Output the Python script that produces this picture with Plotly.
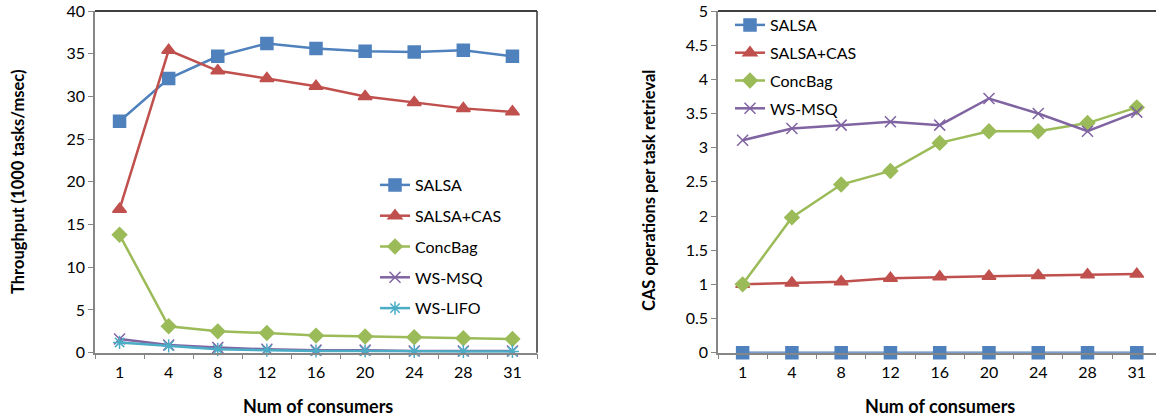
import plotly.graph_objects as go

consumers = ["1", "4", "8", "12", "16", "20", "24", "28", "31"]

# Left chart: throughput (1000 tasks/msec)
thr_salsa = [27.1, 32.1, 34.7, 36.2, 35.6, 35.3, 35.2, 35.4, 34.7]
thr_salsa_cas = [16.8, 35.4, 33.0, 32.1, 31.2, 30.0, 29.3, 28.6, 28.2]
thr_concbag = [13.8, 3.1, 2.5, 2.3, 2.0, 1.9, 1.8, 1.7, 1.6]
thr_wsmsq = [1.6, 0.9, 0.6, 0.4, 0.3, 0.3, 0.2, 0.2, 0.2]
thr_wslifo = [1.2, 0.8, 0.4, 0.3, 0.2, 0.2, 0.15, 0.15, 0.15]

# Right chart: CAS operations per task retrieval
cas_salsa = [0, 0, 0, 0, 0, 0, 0, 0, 0]
cas_salsa_cas = [1.0, 1.02, 1.04, 1.09, 1.11, 1.12, 1.13, 1.14, 1.15]
cas_concbag = [1.0, 1.98, 2.46, 2.66, 3.07, 3.24, 3.24, 3.36, 3.59]
cas_wsmsq = [3.11, 3.28, 3.33, 3.38, 3.33, 3.72, 3.50, 3.24, 3.52]

names = ["SALSA", "SALSA+CAS", "ConcBag", "WS-MSQ", "WS-LIFO"]
colors = ["#4F81BD", "#C0504D", "#9BBB59", "#8064A2", "#4BACC6"]
symbols = ["square", "triangle-up", "diamond", "x-thin-open", "asterisk-open"]
sizes = [12, 12, 11, 11, 11]

FONT = "Lato, 'Open Sans', sans-serif"

fig = go.Figure()

left_series = [thr_salsa, thr_salsa_cas, thr_concbag, thr_wsmsq, thr_wslifo]
for i, ys in enumerate(left_series):
    fig.add_trace(go.Scatter(
        x=consumers, y=ys, name=names[i], mode="lines+markers",
        line=dict(color=colors[i], width=2.5),
        marker=dict(symbol=symbols[i], size=sizes[i], color=colors[i],
                    line=dict(color=colors[i], width=1.5)),
        xaxis="x", yaxis="y", legend="legend", legendgroup="L%d" % i,
        cliponaxis=False,
    ))

right_series = [cas_salsa, cas_salsa_cas, cas_concbag, cas_wsmsq]
for i, ys in enumerate(right_series):
    fig.add_trace(go.Scatter(
        x=consumers, y=ys, name=names[i], mode="lines+markers",
        line=dict(color=colors[i], width=2.5),
        marker=dict(symbol=symbols[i], size=sizes[i], color=colors[i],
                    line=dict(color=colors[i], width=1.5)),
        xaxis="x2", yaxis="y2", legend="legend2", legendgroup="R%d" % i,
        cliponaxis=False,
    ))

axis_common = dict(
    showgrid=False, zeroline=False, showline=True, linecolor="#868686", linewidth=1.5,
    ticks="outside", tickcolor="#868686", ticklen=5, tickwidth=1, automargin=False,
    tickfont=dict(family=FONT, size=16, color="#000"),
)

ydom = [66.3 / 419, 408 / 419]

fig.update_layout(
    width=1156, height=419,
    margin=dict(l=0, r=0, t=0, b=0),
    paper_bgcolor="white", plot_bgcolor="white",
    font=dict(family=FONT, color="#000"),
    xaxis=dict(axis_common, type="category", domain=[95 / 1156, 537 / 1156],
               range=[-0.5, 8.5], tickson="boundaries", anchor="y",
               ticklabelstandoff=4),
    yaxis=dict(axis_common, range=[0, 40], dtick=5, domain=ydom, anchor="x"),
    xaxis2=dict(axis_common, type="category", domain=[718 / 1156, 1.0],
                range=[-0.5, 8.39], tickson="boundaries", anchor="y2",
                ticklabelstandoff=4),
    yaxis2=dict(axis_common, range=[0, 5], dtick=0.5, domain=ydom, anchor="x2",
                tickformat="~g"),
    legend=dict(x=375 / 1156, y=(419 - 168) / 419, xanchor="left", yanchor="top",
                font=dict(family=FONT, size=16), tracegroupgap=7,
                bgcolor="rgba(0,0,0,0)", itemwidth=30),
    legend2=dict(x=730 / 1156, y=(419 - 8) / 419, xanchor="left", yanchor="top",
                 font=dict(family=FONT, size=16), tracegroupgap=4,
                 bgcolor="rgba(0,0,0,0)", itemwidth=30),
    showlegend=True,
)

# plot area borders (top & right in black)
fig.add_shape(type="line", xref="paper", yref="paper",
              x0=95 / 1156, x1=537 / 1156, y0=ydom[1], y1=ydom[1],
              line=dict(color="#000", width=1.5))
fig.add_shape(type="line", xref="paper", yref="paper",
              x0=537 / 1156, x1=537 / 1156, y0=ydom[0], y1=ydom[1],
              line=dict(color="#333", width=1.5))
fig.add_shape(type="line", xref="paper", yref="paper",
              x0=718 / 1156, x1=1.0, y0=ydom[1], y1=ydom[1],
              line=dict(color="#000", width=1.5))

# axis titles
fig.add_annotation(text="<b>Num of consumers</b>", xref="paper", yref="paper",
                   x=318 / 1156, y=(419 - 406) / 419, showarrow=False,
                   font=dict(family=FONT, size=18), xanchor="center", yanchor="middle")
fig.add_annotation(text="<b>Num of consumers</b>", xref="paper", yref="paper",
                   x=940 / 1156, y=(419 - 406) / 419, showarrow=False,
                   font=dict(family=FONT, size=18), xanchor="center", yanchor="middle")
fig.add_annotation(text="<b>Throughput (1000 tasks/msec)</b>", xref="paper", yref="paper",
                   x=18 / 1156, y=(419 - 182) / 419, showarrow=False, textangle=-90,
                   font=dict(family=FONT, size=16.5), xanchor="center", yanchor="middle")
fig.add_annotation(text="<b>CAS operations per task retrieval</b>", xref="paper", yref="paper",
                   x=649 / 1156, y=(419 - 191) / 419, showarrow=False, textangle=-90,
                   font=dict(family=FONT, size=16.5), xanchor="center", yanchor="middle")

fig.write_html("out.html")
